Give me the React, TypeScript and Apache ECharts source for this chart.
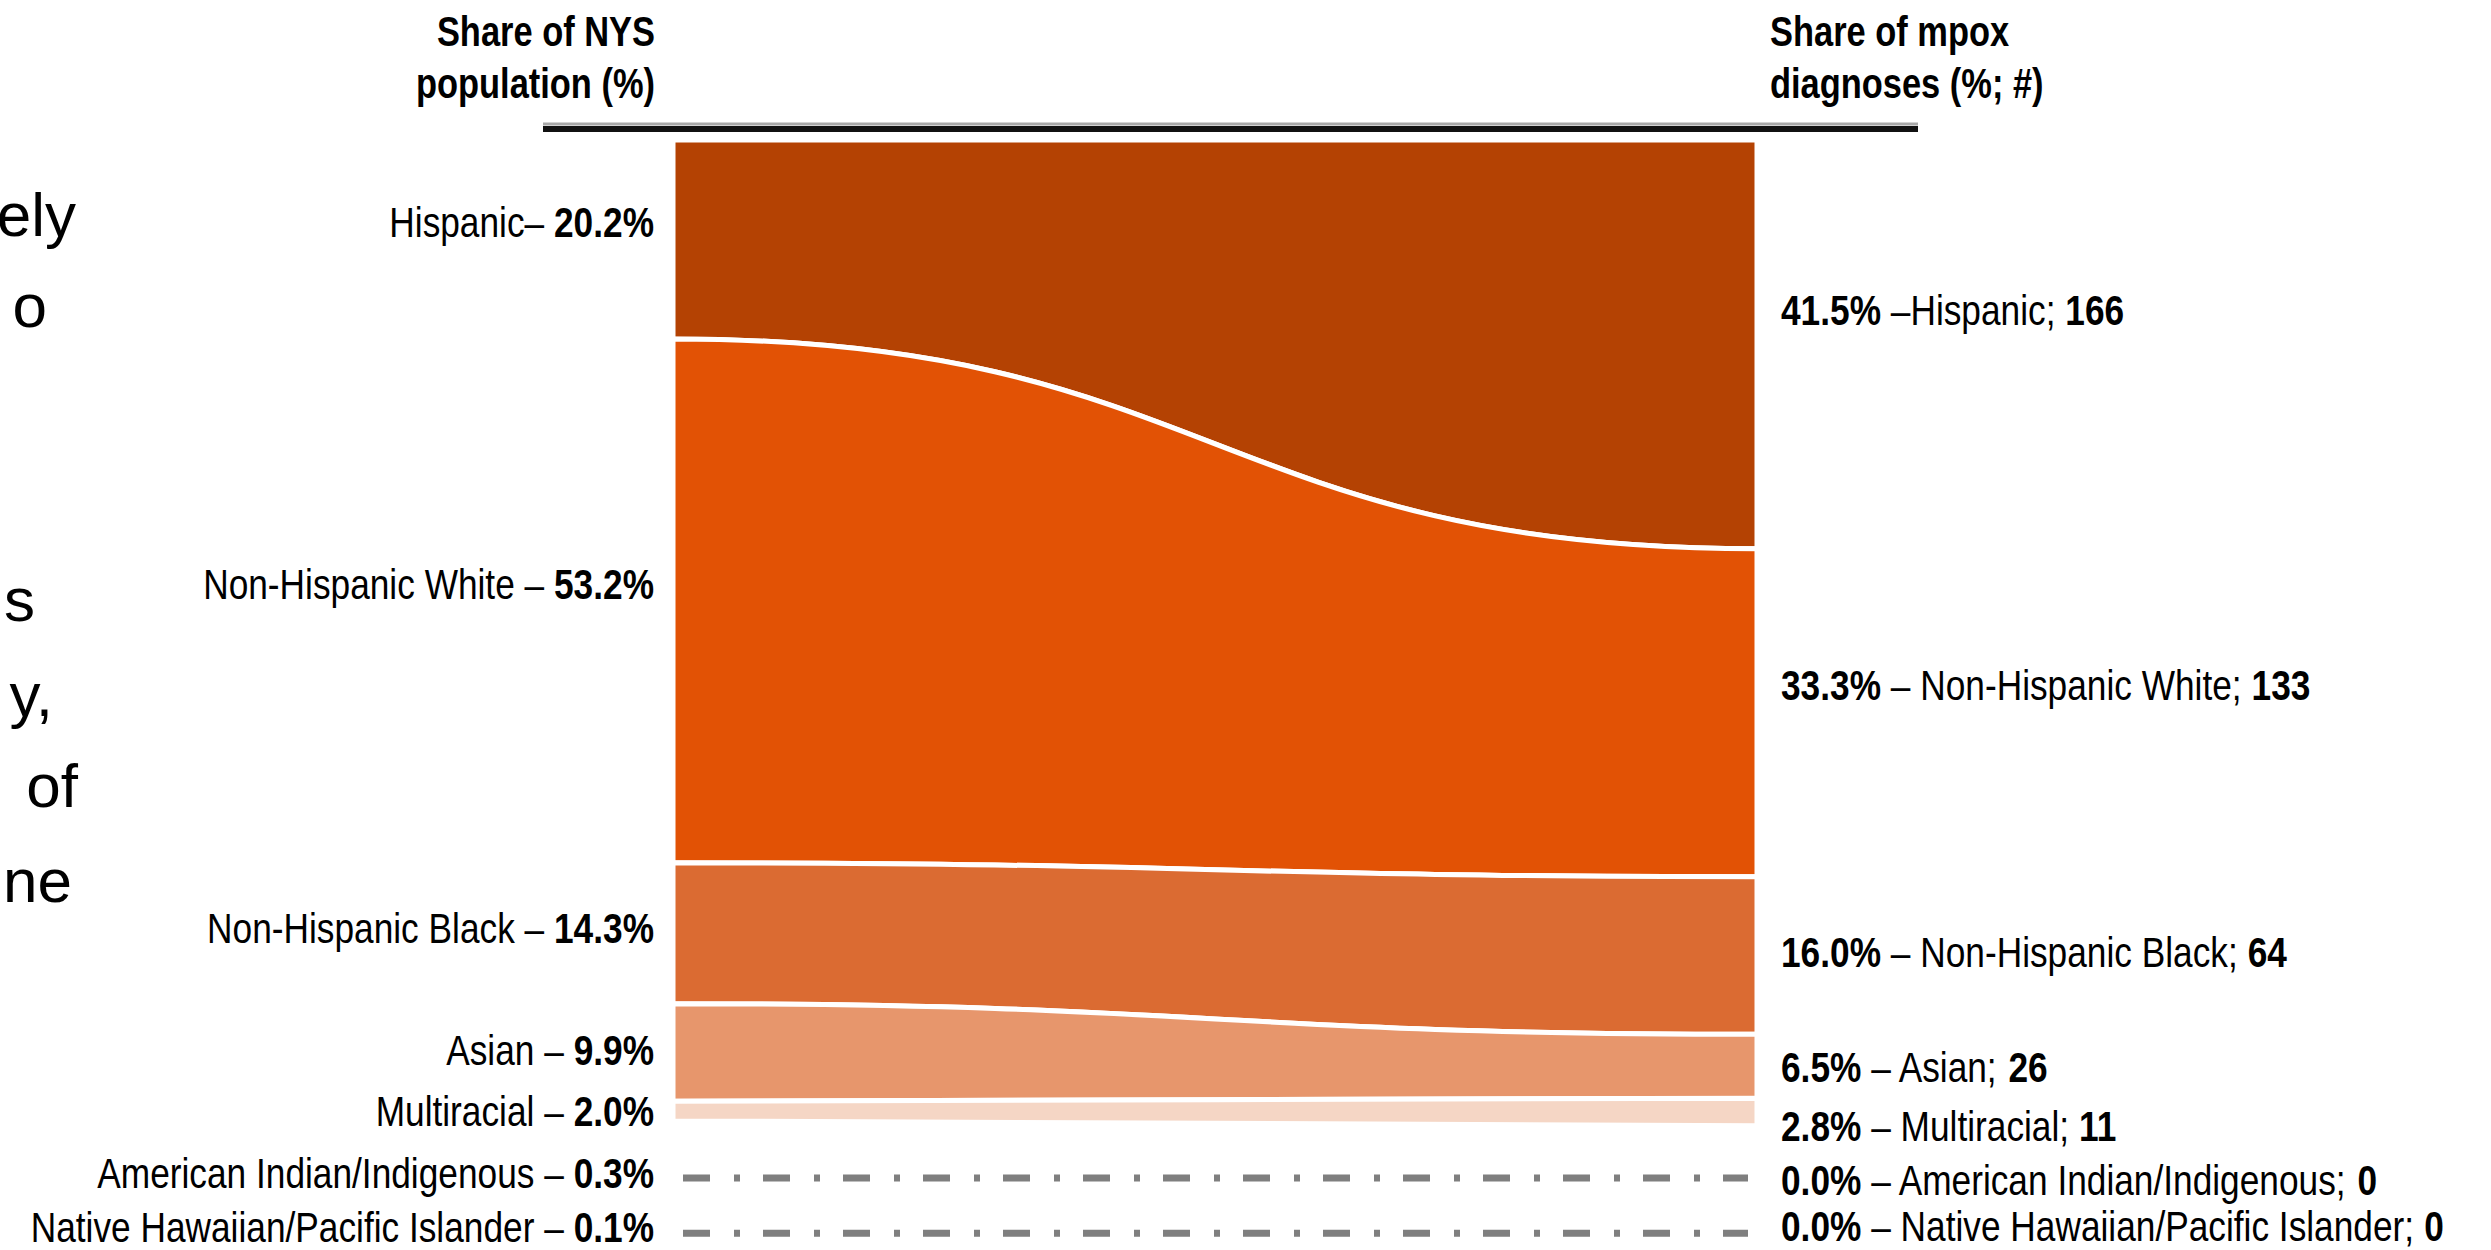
import React, { useEffect, useRef } from "react";
import * as echarts from "echarts";

// ---- data ----
const categories = ["Hispanic", "Non-Hispanic White", "Non-Hispanic Black", "Asian", "Multiracial"];
const populationShare = [20.2, 53.2, 14.3, 9.9, 2.0];
const diagnosisShare = [41.5, 33.3, 16.0, 6.5, 2.8];
const diagnosisCount = [166, 133, 64, 26, 11];
const leftSeparators = ["– ", " – ", " – ", " – ", " – "];
const rightSeparators = [" –", " – ", " – ", " – ", " – "];

const minorCategories = ["American Indian/Indigenous", "Native Hawaiian/Pacific Islander"];
const minorPopulationShare = [0.3, 0.1];
const minorDiagnosisShare = [0.0, 0.0];
const minorDiagnosisCount = [0, 0];

const leftHeader = ["Share of NYS", "population (%)"];
const rightHeader = ["Share of mpox", "diagnoses (%; #)"];
const sideFragments = ["ely", "o", "s", "y,", "of", "ne"];

// ---- layout / style ----
const BAND_COLORS = ["#B44203", "#E25205", "#DB6B32", "#E7966C", "#F5D6C5"];
const LEFT_DY = [-17, -17, -5, -2, 0];
const RIGHT_DY = [-34, -27, -3, 1, 14];
const MINOR_ROWS = [105.4, 111.0];
const MINOR_LEFT_DY = [-5, -6];
const MINOR_RIGHT_DY = [2, -7];
const FRAG_POS = [
  [76, 214],
  [47, 305],
  [35, 599],
  [53, 694],
  [78, 785],
  [72, 880],
];
const FONT = "'Liberation Sans', Arial, sans-serif";
const FS = 42;
const SX_HEAD = 0.82; // narrow (condensed) appearance
const SX_LABEL = 0.84;

const pct = (v: number) => v.toFixed(1) + "%";

function cumulative(arr: number[]) {
  const starts: number[] = [];
  let s = 0;
  arr.forEach((v) => {
    starts.push(s);
    s += v;
  });
  return starts;
}

const leftStart = cumulative(populationShare);
const rightStart = cumulative(diagnosisShare);

const rich = {
  r: { fontFamily: FONT, fontSize: FS, fontWeight: "normal", fill: "#000" },
  b: { fontFamily: FONT, fontSize: FS, fontWeight: "bold", fill: "#000" },
};

function label(x: number, y: number, text: string, align: string) {
  return {
    type: "text",
    x,
    y,
    scaleX: SX_LABEL,
    style: {
      text,
      rich,
      align,
      verticalAlign: "middle",
      fontFamily: FONT,
      fontSize: FS,
      fill: "#000",
    },
  };
}

export default function App() {
  const ref = useRef<HTMLDivElement>(null);

  useEffect(() => {
    if (!ref.current) return;
    const chart = echarts.init(ref.current, undefined, { renderer: "svg" });

    const mainData = categories.map((_, i) => [
      i,
      leftStart[i],
      leftStart[i] + populationShare[i],
      rightStart[i],
      rightStart[i] + diagnosisShare[i],
    ]);
    const minorData = minorCategories.map((_, i) => [i, MINOR_ROWS[i]]);

    const headerText = (t: string, x: number, y: number, align: string) => ({
      type: "text",
      x,
      y,
      scaleX: SX_HEAD,
      style: {
        text: t,
        align,
        verticalAlign: "middle",
        fontFamily: FONT,
        fontSize: FS,
        fontWeight: "bold",
        fill: "#000",
      },
    });

    const option: any = {
      animation: false,
      backgroundColor: "#ffffff",
      grid: { left: 673, right: 734, top: 140, bottom: 7 },
      xAxis: { type: "value", min: 0, max: 1, show: false },
      yAxis: { type: "value", min: 0, max: 112, inverse: true, show: false },
      graphic: [
        ...leftHeader.map((t, k) => headerText(t, 655, 31 + k * 52, "right")),
        ...rightHeader.map((t, k) => headerText(t, 1770, 31 + k * 52, "left")),
        {
          type: "line",
          shape: { x1: 543, y1: 124, x2: 1918, y2: 124 },
          style: { stroke: "#a8a8a8", lineWidth: 3 },
        },
        {
          type: "line",
          shape: { x1: 543, y1: 129, x2: 1918, y2: 129 },
          style: { stroke: "#111111", lineWidth: 6 },
        },
        ...sideFragments.map((t, k) => ({
          type: "text",
          x: FRAG_POS[k][0],
          y: FRAG_POS[k][1],
          style: {
            text: t,
            align: "right",
            verticalAlign: "middle",
            fontFamily: FONT,
            fontSize: 62,
            fill: "#000",
          },
        })),
      ],
      series: [
        {
          type: "custom",
          data: mainData,
          renderItem: (params: any, api: any) => {
            const i = api.value(0);
            const lt = api.coord([0, api.value(1)]);
            const lb = api.coord([0, api.value(2)]);
            const rt = api.coord([1, api.value(3)]);
            const rb = api.coord([1, api.value(4)]);
            const xm = (lt[0] + rt[0]) / 2;
            const d =
              `M${lt[0]},${lt[1]} C${xm},${lt[1]} ${xm},${rt[1]} ${rt[0]},${rt[1]} ` +
              `L${rb[0]},${rb[1]} C${xm},${rb[1]} ${xm},${lb[1]} ${lb[0]},${lb[1]} Z`;
            const leftMid = (lt[1] + lb[1]) / 2 + LEFT_DY[i];
            const rightMid = (rt[1] + rb[1]) / 2 + RIGHT_DY[i];
            return {
              type: "group",
              children: [
                {
                  type: "path",
                  shape: { pathData: d },
                  style: { fill: BAND_COLORS[i], stroke: "#ffffff", lineWidth: 5 },
                },
                label(
                  lt[0] - 19,
                  leftMid,
                  `{r|${categories[i]}${leftSeparators[i]}}{b|${pct(populationShare[i])}}`,
                  "right"
                ),
                label(
                  rt[0] + 24,
                  rightMid,
                  `{b|${pct(diagnosisShare[i])}}{r|${rightSeparators[i]}${categories[i]}; }{b|${diagnosisCount[i]}}`,
                  "left"
                ),
              ],
            };
          },
        },
        {
          type: "custom",
          data: minorData,
          renderItem: (params: any, api: any) => {
            const i = api.value(0);
            const pl = api.coord([0, api.value(1)]);
            const pr = api.coord([1, api.value(1)]);
            return {
              type: "group",
              children: [
                {
                  type: "line",
                  shape: { x1: pl[0] + 10, y1: pl[1], x2: pr[0] - 9, y2: pr[1] },
                  style: { stroke: "#7f7f7f", lineWidth: 7, lineDash: [27, 24, 6, 23], lineCap: "butt" },
                },
                label(
                  pl[0] - 19,
                  pl[1] + MINOR_LEFT_DY[i],
                  `{r|${minorCategories[i]} – }{b|${pct(minorPopulationShare[i])}}`,
                  "right"
                ),
                label(
                  pr[0] + 24,
                  pr[1] + MINOR_RIGHT_DY[i],
                  `{b|${pct(minorDiagnosisShare[i])}}{r| – ${minorCategories[i]}; }{b|${minorDiagnosisCount[i]}}`,
                  "left"
                ),
              ],
            };
          },
        },
      ],
    };

    chart.setOption(option);
    return () => chart.dispose();
  }, []);

  return (
    <div
      ref={ref}
      style={{ position: "absolute", left: 0, top: 0, width: 2491, height: 1250, background: "#fff" }}
    />
  );
}
